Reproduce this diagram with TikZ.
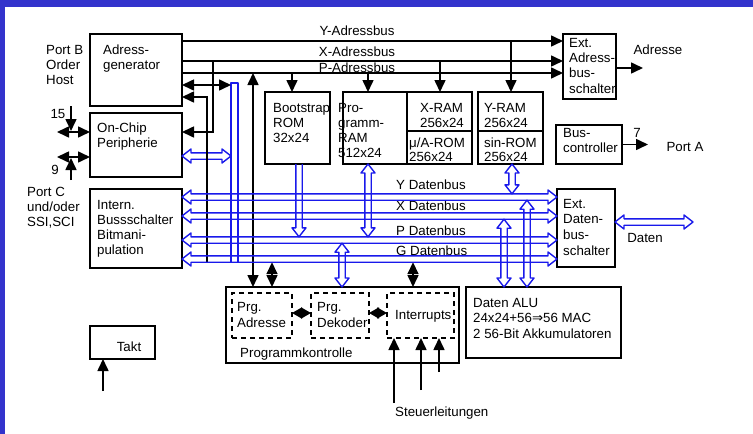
\documentclass[tikz,border=0pt]{standalone}
\usepackage{fontspec}
\setmainfont{Liberation Sans}
\newfontfamily\symf{DejaVu Sans}
\usetikzlibrary{calc,arrows.meta}
\definecolor{frameblue}{RGB}{51,51,204}
\definecolor{busblue}{RGB}{25,25,235}
\tikzset{
 ln/.style={line width=1.6pt},
 box/.style={draw, line width=1.6pt, inner sep=0pt, outer sep=0pt, anchor=north west},
 dbox/.style={box, dash pattern=on 5pt off 4pt},
 tx/.style={font=\fontsize{13.3}{15}\selectfont, inner sep=0pt, anchor=north west, align=left},
 txc/.style={font=\fontsize{13.3}{15}\selectfont, inner sep=0pt, anchor=center},
 hb/.style={draw=busblue, line width=1.4pt, line join=round},
 dia/.tip={Triangle[length=10pt,width=11pt]},
 >={Triangle[length=12pt,width=11pt]},
 dbus/.style={to path={
   ($(\tikztostart)!9pt!(\tikztotarget)$) coordinate (dbA)
   ($(\tikztotarget)!9pt!(\tikztostart)$) coordinate (dbB)
   (\tikztostart) -- ($(dbA)!7pt!90:(\tikztotarget)$) -- ($(dbA)!3.2pt!90:(\tikztotarget)$)
   -- ($(dbB)!3.2pt!-90:(\tikztostart)$) -- ($(dbB)!7pt!-90:(\tikztostart)$) -- (\tikztotarget)
   -- ($(dbB)!7pt!90:(\tikztostart)$) -- ($(dbB)!3.2pt!90:(\tikztostart)$)
   -- ($(dbA)!3.2pt!-90:(\tikztotarget)$) -- ($(dbA)!7pt!-90:(\tikztotarget)$) -- cycle}},
 sbus/.style={to path={
   ($(\tikztotarget)!9pt!(\tikztostart)$) coordinate (dbB)
   ($(\tikztostart)!3.2pt!90:(\tikztotarget)$) -- ($(dbB)!3.2pt!-90:(\tikztostart)$)
   -- ($(dbB)!7pt!-90:(\tikztostart)$) -- (\tikztotarget)
   -- ($(dbB)!7pt!90:(\tikztostart)$) -- ($(dbB)!3.2pt!90:(\tikztostart)$)
   -- ($(\tikztostart)!3.2pt!-90:(\tikztotarget)$)}},
}
\begin{document}
\begin{tikzpicture}[x=1pt,y=-1pt]
\useasboundingbox (0,0) rectangle (753,434);
\fill[frameblue] (0,0) rectangle (753,434);
\fill[white] (5,7) rectangle (753,434);

% boxes
\node[box,minimum width=92pt,minimum height=72pt] (ag) at (90,34) {};
\node[box,minimum width=92pt,minimum height=64pt] (ocp) at (90,113) {};
\node[box,minimum width=92pt,minimum height=79pt] (ibs) at (90,189) {};
\node[box,minimum width=53pt,minimum height=65pt] (eabs) at (563,34) {};
\node[box,minimum width=65pt,minimum height=72pt] (bsr) at (265,92) {};
\node[box,minimum width=64pt,minimum height=72pt] (pram) at (343,92) {};
\node[box,minimum width=65pt,minimum height=39pt] (xram) at (407,92) {};
\node[box,minimum width=65pt,minimum height=33pt] (uarom) at (407,131) {};
\node[box,minimum width=65pt,minimum height=39pt] (yram) at (478,92) {};
\node[box,minimum width=65pt,minimum height=33pt] (sinrom) at (478,131) {};
\node[box,minimum width=66pt,minimum height=39pt] (bc) at (556,125) {};
\node[box,minimum width=58pt,minimum height=78pt] (edbs) at (557,189) {};
\node[box,minimum width=155pt,minimum height=71pt] (alu) at (466,287) {};
\node[box,minimum width=233pt,minimum height=76pt] (pk) at (226,287) {};
\node[dbox,minimum width=60pt,minimum height=45pt] (pa) at (232,293) {};
\node[dbox,minimum width=58pt,minimum height=45pt] (pd) at (311,293) {};
\node[dbox,minimum width=67pt,minimum height=45pt] (ir) at (387,293) {};
\node[box,minimum width=65pt,minimum height=33pt] (takt) at (90,326) {};

% texts
\node[tx] (agt) at (103,45) {Adress-\\generator};
\node[tx] (ocpt) at (97,123) {On-Chip\\Peripherie};
\node[tx] (ibst) at (97,200) {Intern.\\Bussschalter\\Bitmani-\\pulation};
\node[tx] (portb) at (46,45) {Port B\\Order\\Host};
\node[tx] (portc) at (27,187) {Port C\\und/oder\\SSI,SCI};
\node[txc] (n15) at (58,114) {15};
\node[txc] (n9) at (55,170) {9};
\node[txc] (yabl) at (357,31) {Y-Adressbus};
\node[txc] (xabl) at (357,52) {X-Adressbus};
\node[txc] (pabl) at (357,68) {P-Adressbus};
\node[tx,font=\fontsize{13.3}{15.3}\selectfont] (eabst) at (569,38) {Ext.\\Adress-\\bus-\\schalter};
\node[txc] (adr) at (658,50) {Adresse};
\node[tx] (bsrt) at (273,103) {Bootstrap\\ROM\\32x24};
\node[tx] (pramt) at (338,103) {Pro-\\gramm-\\RAM\\512x24};
\node[tx] (xramt) at (420,103) {X-RAM\\256x24};
\node[tx,font=\fontsize{13.3}{14}\selectfont] (uaromt) at (409,138) {μ/A-ROM\\256x24};
\node[tx] (yramt) at (484,103) {Y-RAM\\256x24};
\node[tx,font=\fontsize{13.3}{14}\selectfont] (sinromt) at (484,138) {sin-ROM\\256x24};
\node[tx] (bct) at (563,128) {Bus-\\controller};
\node[txc] (n7) at (637,133) {7};
\node[txc] (porta) at (685,147) {Port A};
\node[tx] (ydl) at (396,180) {Y Datenbus};
\node[tx] (xdl) at (396,201) {X Datenbus};
\node[tx] (pdl) at (396,226) {P Datenbus};
\node[tx] (gdl) at (396,246) {G Datenbus};
\node[tx,font=\fontsize{13.3}{15.6}\selectfont] (edbst) at (563,199) {Ext.\\Daten-\\bus-\\schalter};
\node[txc] (daten) at (645,238) {Daten};
\node[tx,font=\fontsize{13.3}{15.5}\selectfont] (alut) at (473,298) {Daten ALU\\24x24+56{\symf ⇒}56 MAC\\2 56-Bit Akkumulatoren};
\node[tx] (pkt) at (240,348) {Programmkontrolle};
\node[tx,font=\fontsize{13.3}{16}\selectfont] (pat) at (237,302) {Prg.\\Adresse};
\node[tx,font=\fontsize{13.3}{16}\selectfont] (pdt) at (317,302) {Prg.\\Dekoder};
\node[tx] (irt) at (395,310) {Interrupts};
\node[txc] (taktt) at (129,347) {Takt};
\node[tx] (steu) at (395,407) {Steuerleitungen};

% bus level coordinates
\coordinate (yab) at (0,41);
\coordinate (xab) at (0,61);
\coordinate (pab) at (0,73);
\coordinate (ydb) at (0,197);   \coordinate (ydbT) at (0,193.8); \coordinate (ydbB) at (0,200.2);
\coordinate (xdb) at (0,216);   \coordinate (xdbT) at (0,212.8); \coordinate (xdbB) at (0,219.2);
\coordinate (pdb) at (0,240);   \coordinate (pdbT) at (0,236.8); \coordinate (pdbB) at (0,243.2);
\coordinate (gdb) at (0,259);   \coordinate (gdbT) at (0,255.8); \coordinate (gdbB) at (0,262.2);
\coordinate (vbL) at (231,0);

% address buses
\draw[ln,->] (ag.east |- yab) -- (eabs.west |- yab);
\draw[ln,->] (ag.east |- xab) -- (eabs.west |- xab);
\draw[ln,->] (ag.east |- pab) -- (eabs.west |- pab);
\coordinate (adrE) at (643,68);
\draw[ln,->] (eabs.east |- adrE) -- (adrE);
\draw[ln,->] (292,0 |- pab) -- (bsr.north -| 292,0);
\draw[ln,->] (368,0 |- pab) -- (pram.north -| 368,0);
\draw[ln,->] (440,0 |- xab) -- (xram.north -| 440,0);
\draw[ln,->] (511,0 |- yab) -- (yram.north -| 511,0);
\coordinate (bcE) at (648,144.5);
\draw[ln,->] (bc.east) -- (bcE);

% left side
\draw[hb] (231,83) rectangle (238,0 |- gdbB);
\draw[ln,<->] (ag.east |- 0,85) -- (vbL |- 0,85);
\draw[hb] (ocp.east |- 0,156) to[dbus] (vbL |- 0,156);
\draw[ln,->] (213,0 |- xab) -- (213,132) -- (ocp.east |- 0,132);
\draw[ln,->] (207,0 |- gdbB) -- (207,97) -- (ag.east |- 0,97);
\draw[ln,<->] (253,0 |- pab) -- (pk.north -| 253,0);
\draw[ln,<->] (272,0 |- gdbB) -- (pk.north -| 272,0);
\draw[ln,<->] (413,0 |- gdbB) -- (pk.north -| 413,0);

\coordinate (pbL) at (57,132);
\coordinate (pcL) at (57,157);
\draw[ln,<->] (pbL) -- (ocp.west |- pbL);
\draw[ln,<->] (pcL) -- (ocp.west |- pcL);
\coordinate (t15) at (71,106);
\coordinate (t9) at (71,180);
\draw[ln,->] (t15) -- (71,131);
\draw[ln,->] (t9) -- (71,158);

% data buses
\draw[hb] (ibs.east |- ydb) to[dbus] (edbs.west |- ydb);
\draw[hb] (ibs.east |- xdb) to[dbus] (edbs.west |- xdb);
\draw[hb] (ibs.east |- pdb) to[dbus] (edbs.west |- pdb);
\draw[hb] (ibs.east |- gdb) to[dbus] (edbs.west |- gdb);
\coordinate (datE) at (693,222);
\draw[hb] (edbs.east |- datE) to[dbus] (datE);

% vertical hollow connectors
\draw[hb] (bsr.south -| 299,0) to[sbus] (299,0 |- pdbT);
\draw[hb] (pram.south -| 368,0) to[dbus] (368,0 |- pdbT);
\draw[hb] (sinrom.south -| 512,0) to[dbus] (512,0 |- ydbT);
\draw[hb] (342,0 |- pdbB) to[dbus] (pk.north -| 342,0);
\draw[hb] (504,0 |- xdbB) to[dbus] (alu.north -| 504,0);
\draw[hb] (527,0 |- ydbB) to[dbus] (alu.north -| 527,0);

% program control internals
\draw[ln,dia-dia] (pa.east |- 0,313) -- (pd.west |- 0,313);
\draw[ln,dia-dia] (pd.east |- 0,313) -- (ir.west |- 0,313);
\coordinate (s1) at (394,403);
\coordinate (s2) at (421,390);
\coordinate (s3) at (439,372);
\draw[ln,->] (s1) -- (ir.south -| s1);
\draw[ln,->] (s2) -- (ir.south -| s2);
\draw[ln,->] (s3) -- (ir.south -| s3);
\coordinate (tk) at (103,391);
\draw[ln,->] (tk) -- (takt.south -| tk);
\end{tikzpicture}
\end{document}
